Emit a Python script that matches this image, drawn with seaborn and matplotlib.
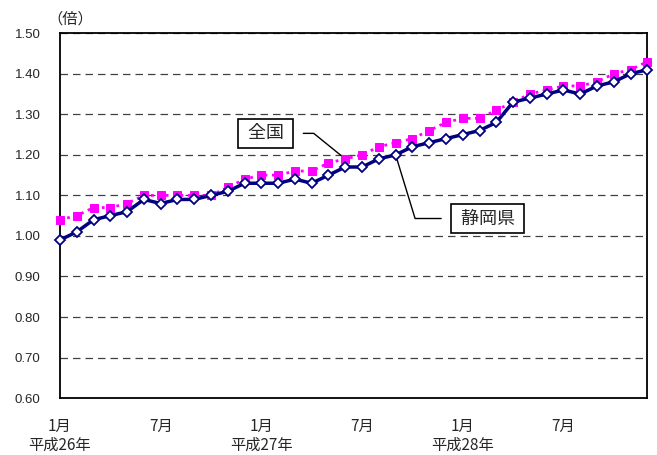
import numpy as np
import pandas as pd
import matplotlib
matplotlib.use("Agg")
import matplotlib.pyplot as plt
import seaborn as sns

# monthly data, Jan H26 .. Dec H28
months = list(range(36))
national = [1.04, 1.05, 1.07, 1.07, 1.08, 1.10, 1.10, 1.10, 1.10, 1.10, 1.12, 1.14,
            1.15, 1.15, 1.16, 1.16, 1.18, 1.19, 1.20, 1.22, 1.23, 1.24, 1.26, 1.28,
            1.29, 1.29, 1.31, 1.33, 1.35, 1.36, 1.37, 1.37, 1.38, 1.40, 1.41, 1.43]
shizuoka = [0.99, 1.01, 1.04, 1.05, 1.06, 1.09, 1.08, 1.09, 1.09, 1.10, 1.11, 1.13,
            1.13, 1.13, 1.14, 1.13, 1.15, 1.17, 1.17, 1.19, 1.20, 1.22, 1.23, 1.24,
            1.25, 1.26, 1.28, 1.33, 1.34, 1.35, 1.36, 1.35, 1.37, 1.38, 1.40, 1.41]
tick_labels = {0: "1月\n平成26年", 6: "7月", 12: "1月\n平成27年",
               18: "7月", 24: "1月\n平成28年", 30: "7月"}
yticks = [0.60, 0.70, 0.80, 0.90, 1.00, 1.10, 1.20, 1.30, 1.40, 1.50]

df = pd.DataFrame({"month": months, "全国": national, "静岡県": shizuoka})

sns.set_style("white")
plt.rcParams["font.family"] = ["Noto Sans CJK JP", "DejaVu Sans"]

fig = plt.figure(figsize=(6.57, 4.55), dpi=100)
ax = fig.add_axes([0.0913, 0.125, 0.894, 0.802])

sns.lineplot(data=df, x="month", y="全国", ax=ax, color="#FF00FF", linestyle=":",
             linewidth=2, marker="s", markersize=6, markeredgecolor="#FF00FF",
             clip_on=False, zorder=3)
sns.lineplot(data=df, x="month", y="静岡県", ax=ax, color="#000080", linewidth=2.5,
             marker="D", markersize=5.5, markerfacecolor="white",
             markeredgecolor="#000080", markeredgewidth=1.3, clip_on=False, zorder=4)

ax.set_xlim(0, 35)
ax.set_ylim(0.60, 1.50)
ax.set_xticks(months)
ax.set_xticklabels([tick_labels.get(m, "") for m in months], fontsize=11)
ax.set_yticks(yticks)
ax.set_yticklabels([f"{v:.2f}" for v in yticks], fontsize=9.5, fontfamily="Liberation Sans")
ax.tick_params(axis="x", direction="in", length=3.5, width=1, pad=14, color="black")
ax.tick_params(axis="y", length=0, pad=14)
ax.set_xlabel("")
ax.set_ylabel("")

ax.yaxis.grid(True, linestyle=(0, (6, 4)), color="#404040", linewidth=0.9)
ax.xaxis.grid(False)
for s in ax.spines.values():
    s.set_color("black")
    s.set_linewidth(1.3)
    s.set_visible(True)

fig.text(0.107, 0.958, "（倍）", fontsize=11, ha="center", va="center")

box = dict(boxstyle="square,pad=0.3", fc="white", ec="black", lw=1.2)
ax.annotate(" 全国 ", xy=(17, national[17]), xytext=(12.25, 1.253),
            fontsize=13, ha="center", va="center", bbox=box,
            arrowprops=dict(arrowstyle="-", color="black", lw=1,
                            connectionstyle="angle,angleA=0,angleB=-39,rad=0",
                            shrinkA=7, shrinkB=4))
ax.annotate(" 静岡県 ", xy=(20, shizuoka[20]), xytext=(25.5, 1.043),
            fontsize=13, ha="center", va="center", bbox=box,
            arrowprops=dict(arrowstyle="-", color="black", lw=1,
                            connectionstyle="angle,angleA=0,angleB=107,rad=0",
                            shrinkA=7, shrinkB=2))

fig.savefig("out.png", dpi=100)
